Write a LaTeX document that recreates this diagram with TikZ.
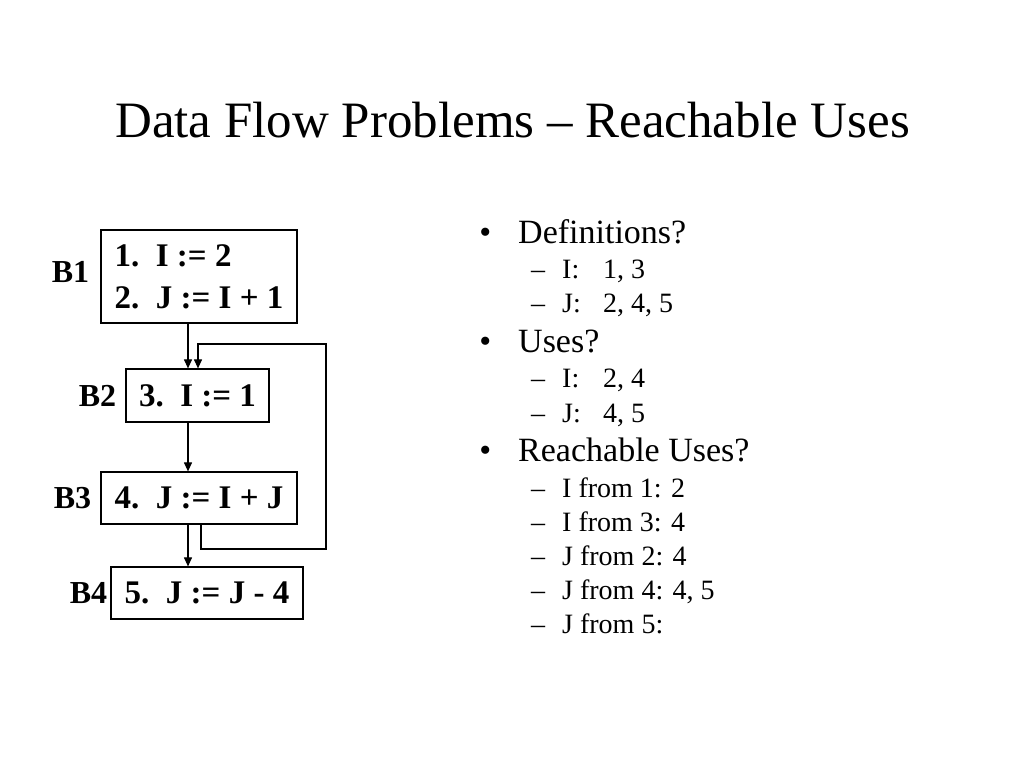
\documentclass[tikz,border=0pt]{standalone}
\usepackage{fontspec}
\setmainfont{Liberation Serif}
\usepackage{tikz}
\usetikzlibrary{arrows.meta,positioning,calc}

\newcommand{\boxfont}{\fontsize{33}{42}\selectfont\bfseries}
\newcommand{\labelfont}{\fontsize{32}{38}\selectfont\bfseries}
\newcommand{\itemfont}{\fontsize{34}{40}\selectfont}
\newcommand{\subfont}{\fontsize{28}{34}\selectfont}
\newcommand{\tabbed}[2]{\makebox[41pt][l]{#1}#2}

\tikzset{
  blockbox/.style={draw=black, line width=1.2pt, inner sep=0pt, align=left, font=\boxfont},
  blocklabel/.style={inner sep=0pt, font=\labelfont},
  flow/.style={-{Triangle[length=9pt,width=8pt]}, line width=1.1pt},
  mainitem/.style={anchor=base west, inner sep=0pt, font=\itemfont},
  subitem/.style={anchor=base west, inner sep=0pt, font=\subfont}
}

\begin{document}
\begin{tikzpicture}[x=1pt,y=-1pt]
  \useasboundingbox (0,0) rectangle (1024,768);

  \node (title) [anchor=base, inner sep=0pt, font=\fontsize{51}{60}\selectfont] at (512.5,137) {Data Flow Problems -- Reachable Uses};

  % flow graph
  \node (B1) [blockbox, minimum width=196pt, minimum height=93pt] at (199,276.5) {1.\ \ I := 2\\2.\ \ J := I + 1};
  \node (B2) [blockbox, minimum width=143pt, minimum height=53pt] at (197.5,395.5) {3.\ \ I := 1};
  \node (B3) [blockbox, minimum width=196pt, minimum height=52pt] at (199,498) {4.\ \ J := I + J};
  \node (B4) [blockbox, minimum width=192pt, minimum height=52pt] at (207,593) {5.\ \ J := J - 4};

  \node (B1label) [blocklabel, left=11pt of B1, yshift=5pt] {B1};
  \node (B2label) [blocklabel, left=9pt of B2] {B2};
  \node (B3label) [blocklabel, left=9pt of B3] {B3};
  \node (B4label) [blocklabel, left=3pt of B4] {B4};

  \coordinate (loopbr) at (326,549);
  \coordinate (looptr) at (326,344);

  \draw [flow] ([xshift=-11pt]B1.south) -- ([xshift=-11pt]B1.south |- B2.north);
  \draw [flow] ([xshift=-9.5pt]B2.south) -- ([xshift=-9.5pt]B2.south |- B3.north);
  \draw [flow] ([xshift=-11pt]B3.south) -- ([xshift=-11pt]B3.south |- B4.north);
  \draw [flow] ([xshift=2pt]B3.south) |- (loopbr) -- (looptr) -| ([xshift=0.5pt]B2.north);

  % bullet list
  \node (defs) [mainitem] at (518,243) {\llap{\textbullet\hspace{27pt}}Definitions?};
  \node (defsI) [subitem] at (562,278) {\llap{--\hspace{17pt}}\tabbed{I:}{1, 3}};
  \node (defsJ) [subitem] at (562,312) {\llap{--\hspace{17pt}}\tabbed{J:}{2, 4, 5}};
  \node (uses) [mainitem] at (518,352) {\llap{\textbullet\hspace{27pt}}Uses?};
  \node (usesI) [subitem] at (562,387) {\llap{--\hspace{17pt}}\tabbed{I:}{2, 4}};
  \node (usesJ) [subitem] at (562,422) {\llap{--\hspace{17pt}}\tabbed{J:}{4, 5}};
  \node (reach) [mainitem] at (518,461) {\llap{\textbullet\hspace{27pt}}Reachable Uses?};
  \node (reachIa) [subitem] at (562,497) {\llap{--\hspace{17pt}}I from 1: 2};
  \node (reachIb) [subitem] at (562,531) {\llap{--\hspace{17pt}}I from 3: 4};
  \node (reachJa) [subitem] at (562,565) {\llap{--\hspace{17pt}}J from 2: 4};
  \node (reachJb) [subitem] at (562,599) {\llap{--\hspace{17pt}}J from 4: 4, 5};
  \node (reachJc) [subitem] at (562,633) {\llap{--\hspace{17pt}}J from 5:};
\end{tikzpicture}
\end{document}
